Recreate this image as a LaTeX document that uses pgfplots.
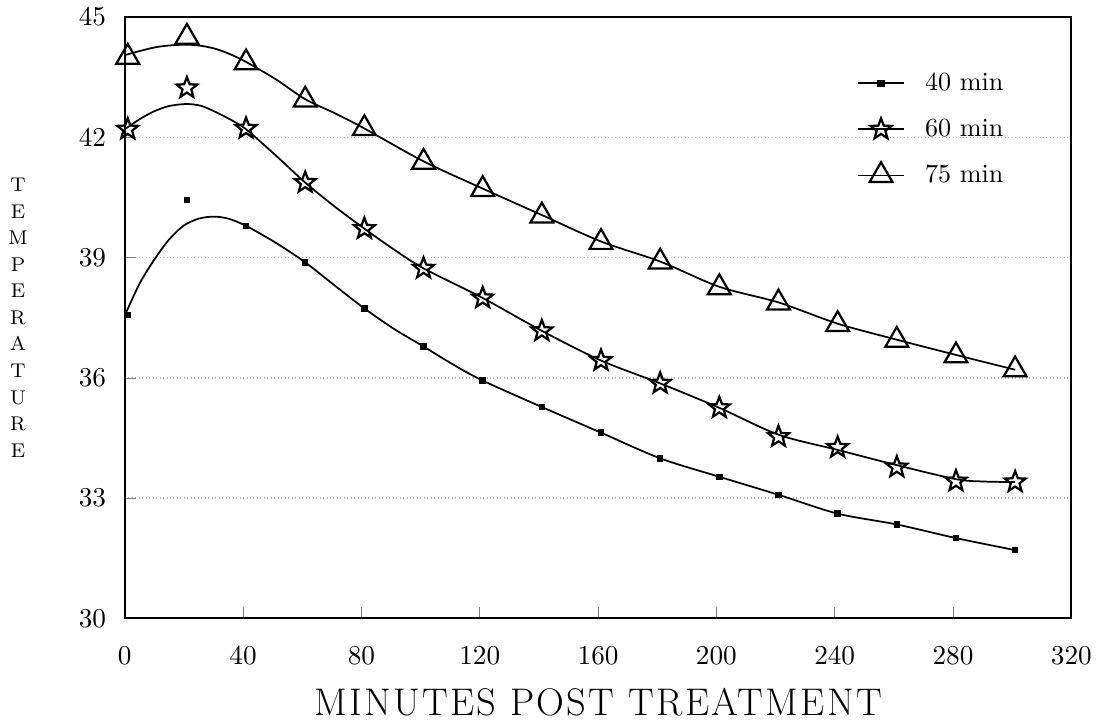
\documentclass[border=0pt]{standalone}
\usepackage{fontspec}
\setmainfont{Latin Modern Roman}
\newfontfamily\spacedfont{Latin Modern Roman}[LetterSpace=6]
\usepackage{pgfplots}
\pgfplotsset{compat=1.18}
\usetikzlibrary{plotmarks}

% open five-pointed star
\pgfdeclareplotmark{ostar}{%
  \pgfpathmoveto{\pgfpointpolar{90}{\pgfplotmarksize}}%
  \pgfpathlineto{\pgfpointpolar{126}{0.42\pgfplotmarksize}}%
  \pgfpathlineto{\pgfpointpolar{162}{\pgfplotmarksize}}%
  \pgfpathlineto{\pgfpointpolar{198}{0.42\pgfplotmarksize}}%
  \pgfpathlineto{\pgfpointpolar{234}{\pgfplotmarksize}}%
  \pgfpathlineto{\pgfpointpolar{270}{0.42\pgfplotmarksize}}%
  \pgfpathlineto{\pgfpointpolar{306}{\pgfplotmarksize}}%
  \pgfpathlineto{\pgfpointpolar{342}{0.42\pgfplotmarksize}}%
  \pgfpathlineto{\pgfpointpolar{18}{\pgfplotmarksize}}%
  \pgfpathlineto{\pgfpointpolar{54}{0.42\pgfplotmarksize}}%
  \pgfpathclose
  \pgfusepathqstroke}

\begin{document}
\begin{tikzpicture}
\begin{axis}[
    scale only axis,
    width=381pt, height=242pt,
    xmin=0, xmax=320, ymin=30, ymax=45,
    xtick={0,40,...,320},
    ytick={30,33,...,45},
    tick align=inside, tick pos=left,
    major tick length=4.5pt,
    axis line style={line width=0.9pt},
    ymajorgrids,
    grid style={densely dotted, gray!60, line width=0.6pt},
    ticklabel style={font=\fontsize{11}{13}\selectfont},
    xticklabel style={yshift=-8pt},
    yticklabel style={xshift=-4pt},
    xlabel={\spacedfont MINUTES POST TREATMENT},
    xlabel style={at={(axis description cs:0.5,0)}, anchor=north, yshift=-24.5pt,
        font=\fontsize{15.5}{18}\selectfont},
    ylabel={T\\E\\M\\P\\E\\R\\A\\T\\U\\R\\E},
    ylabel style={rotate=-90, at={(axis description cs:0,0.5)}, anchor=center,
        xshift=-43pt, align=center, font=\fontsize{8}{10.7}\selectfont},
    legend style={draw=none, fill=none, at={(0.765,0.925)}, anchor=north west,
        font=\fontsize{10.5}{12}\selectfont, row sep=6pt,
        /tikz/every odd column/.append style={column sep=6pt}},
    legend cell align=left,
    legend image code/.code={\draw[mark repeat=2, mark phase=2]
        plot coordinates {(0cm,0cm) (0.33cm,0cm) (0.66cm,0cm)};},
]

\addlegendimage{black, line width=0.7pt, mark=square*, mark size=1.1pt}
\addlegendentry{40 min}
\addlegendimage{black, line width=0.7pt, mark=ostar, mark size=4.4pt, mark options={line width=0.9pt}}
\addlegendentry{60 min}
\addlegendimage{black, line width=0.7pt, mark=triangle, mark size=5.3pt, mark options={line width=0.9pt}}
\addlegendentry{75 min}

% fitted curves
\addplot[black, line width=0.7pt, smooth, forget plot] coordinates {
    (0,37.55) (5,38.35) (10,38.95) (15,39.45) (20,39.8) (25,39.97) (30,40.02)
    (35,39.97) (41,39.79) (51,39.37) (61,38.88) (71,38.3) (81,37.73) (91,37.22)
    (101,36.78) (111,36.33) (121,35.93) (141,35.27) (161,34.63) (181,33.99)
    (201,33.53) (221,33.08) (241,32.61) (261,32.34) (281,32.0) (301,31.70)
};
\addplot[black, line width=0.7pt, smooth, forget plot] coordinates {
    (0,42.2) (5,42.45) (10,42.65) (15,42.78) (21,42.83) (26,42.78) (31,42.62)
    (36,42.43) (41,42.2) (51,41.55) (61,40.87) (71,40.27) (81,39.72) (91,39.2)
    (101,38.73) (121,37.99) (141,37.17) (161,36.43) (181,35.86) (201,35.25)
    (221,34.58) (241,34.2) (261,33.82) (281,33.47) (291,33.41) (301,33.40)
};
\addplot[black, line width=0.7pt, smooth, forget plot] coordinates {
    (0,44.05) (5,44.15) (10,44.24) (15,44.29) (21,44.31) (26,44.28) (31,44.2)
    (36,44.06) (41,43.88) (51,43.45) (61,42.95) (71,42.6) (81,42.22) (101,41.4)
    (121,40.72) (141,40.06) (161,39.4) (181,38.9) (201,38.27) (221,37.88)
    (241,37.35) (261,36.95) (281,36.57) (301,36.2)
};

% measured points
\addplot[black, only marks, mark=square*, mark size=1.1pt, forget plot] coordinates {
    (1,37.57) (21,40.43) (41,39.79) (61,38.88) (81,37.73) (101,36.78) (121,35.93)
    (141,35.27) (161,34.63) (181,33.99) (201,33.53) (221,33.08) (241,32.61)
    (261,32.34) (281,32.0) (301,31.70)
};
\addplot[black, only marks, mark=ostar, mark size=4.4pt, mark options={line width=0.9pt}, forget plot] coordinates {
    (1,42.2) (21,43.23) (41,42.22) (61,40.87) (81,39.72) (101,38.73) (121,37.99)
    (141,37.17) (161,36.43) (181,35.86) (201,35.25) (221,34.53) (241,34.26)
    (261,33.77) (281,33.42) (301,33.40)
};
\addplot[black, only marks, mark=triangle, mark size=5.3pt, mark options={line width=0.9pt}, forget plot] coordinates {
    (1,44.0) (21,44.50) (41,43.86) (61,42.93) (81,42.22) (101,41.38) (121,40.70)
    (141,40.04) (161,39.38) (181,38.89) (201,38.25) (221,37.87) (241,37.33)
    (261,36.94) (281,36.55) (301,36.20)
};
\end{axis}
\end{tikzpicture}
\end{document}
